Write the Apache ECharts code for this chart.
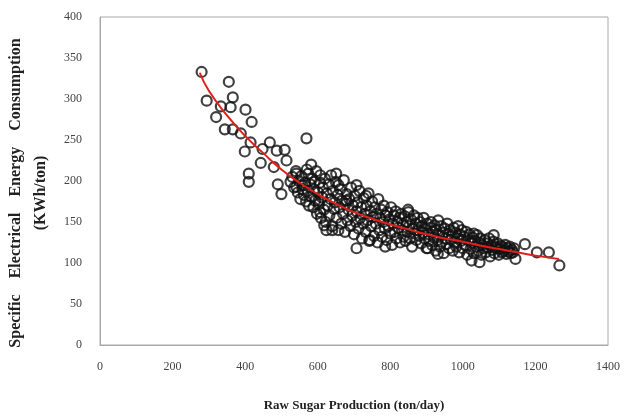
<!DOCTYPE html>
<html lang="en">
  <head>
    <meta charset="UTF-8" />
    <title>Raw sugar production vs specific electrical energy consumption</title>
    <script src="https://cdn.jsdelivr.net/npm/echarts@6.0.0/dist/echarts.min.js"></script>
    <style>
      html, body { margin: 0; padding: 0; background: #fff; }
      #chart { width: 624px; height: 420px; }
    </style>
  </head>
  <body>
    <div id="chart"></div>

    <script>
      // axis ticks
      var xTicks = [0, 200, 400, 600, 800, 1000, 1200, 1400]
      var yTicks = [0, 50, 100, 150, 200, 250, 300, 350, 400]

      // outlying points [ton/day, kWh/ton]
      var sparsePoints = [
        [280, 333], [294, 298], [355, 321], [320, 278], [366, 302], [360, 290],
        [333, 291], [344, 263], [366, 263], [388, 258], [401, 287], [418, 272],
        [399, 236], [410, 209], [410, 199], [415, 247], [448, 239], [443, 222],
        [468, 247], [479, 217], [487, 237], [490, 196], [500, 184], [514, 225],
        [509, 238], [541, 209], [525, 199], [569, 252], [582, 220], [541, 193],
        [558, 195], [574, 209], [591, 199], [607, 207], [602, 176], [607, 162],
        [618, 146], [624, 140], [651, 209], [640, 140], [657, 195], [679, 176],
        [707, 195], [707, 118], [733, 182], [744, 128], [786, 120], [849, 165],
        [903, 118], [931, 111], [1030, 136], [1085, 134], [1145, 105], [1171, 123],
        [1204, 113], [1237, 113], [1266, 97], [1024, 103], [1046, 101]
      ]

      // dense band around the fit, estimated by region
      var densePoints = [
        [530, 205], [535, 192], [540, 212], [545, 186], [548, 200], [552, 178], [555, 206], [558, 190],
        [562, 183], [565, 198], [568, 175], [570, 214], [573, 188], [576, 170], [579, 196], [582, 181],
        [585, 203], [588, 168], [590, 190], [593, 176], [596, 212], [598, 160], [601, 186], [604, 172],
        [606, 198], [609, 155], [612, 180], [614, 192], [617, 165], [620, 203], [622, 150], [625, 185],
        [627, 170], [630, 196], [632, 158], [635, 178], [637, 207], [640, 145], [642, 188], [645, 166],
        [647, 174], [650, 199], [652, 155], [655, 183], [657, 140], [660, 168], [662, 190], [665, 148],
        [667, 176], [670, 160], [672, 201], [675, 138], [677, 172], [680, 184], [682, 152], [685, 165],
        [687, 178], [690, 145], [692, 192], [695, 158], [697, 170], [700, 135], [702, 182], [705, 150],
        [707, 163], [710, 174], [712, 142], [715, 188], [717, 155], [720, 168], [722, 130], [725, 148],
        [727, 179], [730, 160], [732, 138], [735, 170], [737, 152], [740, 185], [742, 127], [745, 163],
        [747, 145], [750, 175], [752, 156], [755, 133], [757, 168], [760, 148], [762, 160], [765, 125],
        [767, 178], [770, 140], [772, 155], [775, 165], [777, 132], [780, 150], [782, 170], [785, 142],
        [787, 158], [790, 128], [792, 162], [795, 145], [797, 153], [800, 136], [802, 168], [805, 122],
        [807, 148], [810, 158], [812, 138], [815, 163], [817, 130], [820, 150], [822, 143], [825, 155],
        [827, 125], [830, 160], [832, 140], [835, 147], [837, 132], [840, 157], [842, 127], [845, 150],
        [847, 138], [850, 162], [852, 145], [855, 130], [857, 153], [860, 120], [862, 142], [865, 158],
        [867, 136], [870, 148], [872, 128], [875, 155], [877, 140], [880, 133], [882, 150], [885, 124],
        [887, 145], [890, 137], [892, 155], [895, 130], [897, 142], [900, 118], [902, 148], [905, 135],
        [907, 127], [910, 143], [912, 150], [915, 122], [917, 138], [920, 131], [922, 146], [925, 115],
        [927, 140], [930, 128], [932, 152], [935, 134], [937, 120], [940, 145], [942, 126], [945, 137],
        [947, 112], [950, 142], [952, 130], [955, 123], [957, 148], [960, 135], [962, 118], [965, 140],
        [967, 128], [970, 133], [972, 115], [975, 143], [977, 125], [980, 137], [982, 120], [985, 130],
        [987, 145], [990, 113], [992, 135], [995, 127], [997, 140], [1000, 118], [1003, 132], [1006, 122],
        [1009, 138], [1012, 110], [1015, 128], [1018, 135], [1021, 117], [1024, 125], [1027, 131], [1030, 112],
        [1033, 127], [1036, 120], [1039, 134], [1042, 115], [1045, 125], [1048, 130], [1051, 110], [1054, 122],
        [1057, 118], [1060, 128], [1063, 113], [1066, 124], [1069, 119], [1072, 130], [1075, 108], [1078, 121],
        [1081, 116], [1084, 126], [1087, 112], [1090, 120], [1093, 118], [1096, 124], [1099, 110], [1102, 117],
        [1105, 121], [1108, 113], [1111, 119], [1114, 115], [1117, 122], [1120, 111], [1123, 118], [1126, 114],
        [1129, 120], [1132, 112], [1135, 116], [1138, 113], [1141, 118]
      ]

      // red fitted curve
      var trendX = [275, 300, 350, 400, 450, 500, 550, 600, 650, 700, 750, 800, 850, 900, 950, 1000, 1050, 1100, 1150, 1200, 1265]
      var trendY = [332, 310, 280, 255, 234, 214, 198, 184, 172, 162, 154, 147, 141, 135, 130, 126, 121, 117, 113, 109, 105]

      var serif = "'Liberation Serif', 'DejaVu Serif', serif"
      var chart = echarts.init(document.getElementById("chart"))

      chart.setOption({
        animation: false,
        grid: {
          left: 100,
          right: 16,
          top: 17,
          bottom: 75,
          outerBoundsMode: "none",
          show: true,
          borderColor: "#a8a8a8",
          borderWidth: 1,
        },
        xAxis: {
          type: "value",
          min: xTicks[0],
          max: xTicks[xTicks.length - 1],
          interval: 200,
          name: "Raw Sugar Production (ton/day)",
          nameLocation: "middle",
          nameGap: 54,
          nameTextStyle: { fontFamily: serif, fontWeight: "bold", fontSize: 13, color: "#222" },
          axisLine: { lineStyle: { color: "#a8a8a8" } },
          axisTick: { show: false },
          splitLine: { show: false },
          axisLabel: {
            fontFamily: serif,
            fontSize: 12,
            color: "#444",
            margin: 16,
            formatter: function (v) { return String(v) },
          },
        },
        yAxis: {
          type: "value",
          min: yTicks[0],
          max: yTicks[yTicks.length - 1],
          interval: 50,
          name: "Specific    Electrical    Energy    Consumption\n(KWh/ton)",
          nameLocation: "middle",
          nameRotate: 90,
          nameGap: 42,
          nameTextStyle: {
            fontFamily: serif,
            fontWeight: "bold",
            fontSize: 16,
            color: "#222",
            lineHeight: 25,
            align: "center",
            padding: [0, 24, 0, 0],
          },
          axisLine: { show: true, lineStyle: { color: "#a8a8a8" } },
          axisTick: { show: false },
          splitLine: { show: false },
          axisLabel: { fontFamily: serif, fontSize: 12, color: "#444", margin: 18 },
        },
        series: [
          {
            type: "scatter",
            data: sparsePoints.concat(densePoints),
            symbol: "circle",
            symbolSize: 10,
            itemStyle: { color: "rgba(0,0,0,0)", borderColor: "#111", borderWidth: 2.2 },
            z: 2,
          },
          {
            type: "line",
            data: trendX.map(function (x, i) { return [x, trendY[i]] }),
            smooth: true,
            showSymbol: false,
            lineStyle: { color: "#e0201a", width: 2 },
            z: 3,
          },
        ],
      })
    </script>
  </body>
</html>
